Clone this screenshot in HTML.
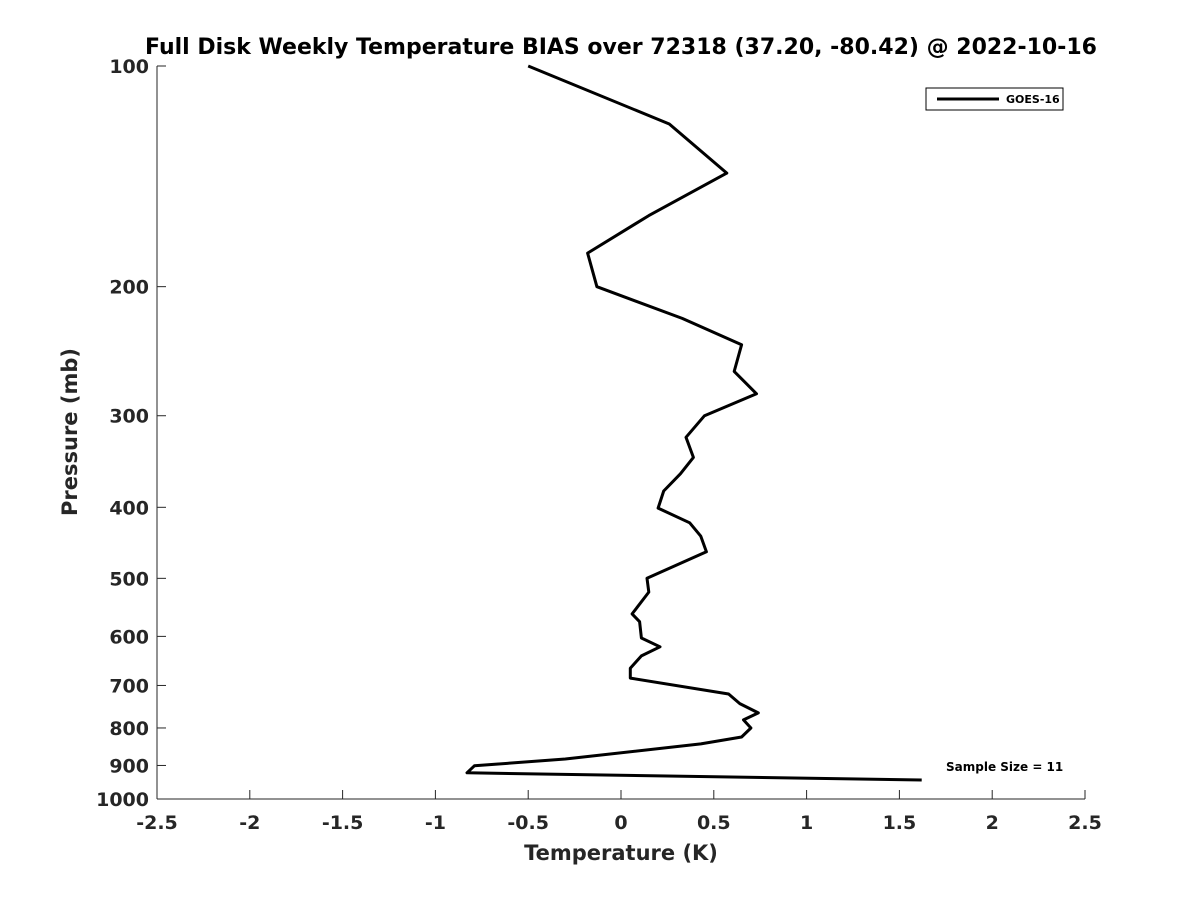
<!DOCTYPE html>
<html><head><meta charset="utf-8"><style>
body{margin:0;background:#fff}
svg{display:block;font-family:"DejaVu Sans","Liberation Sans",sans-serif;font-weight:bold}
</style></head><body>
<svg id="chart" width="1200" height="900">
<rect width="1200" height="900" fill="#fff"/>
<text x="621" y="54" text-anchor="middle" font-size="22" fill="#000">Full Disk Weekly Temperature BIAS over 72318 (37.20, -80.42) @ 2022-10-16</text>
<g id="axes"></g>
<path id="series" fill="none" stroke="#000" stroke-width="3" stroke-linejoin="round"/>
<g>
<rect x="926" y="88" width="137" height="22" fill="#fff" stroke="#000" stroke-width="1"/>
<line x1="937" y1="99" x2="999" y2="99" stroke="#000" stroke-width="3"/>
<text x="1006" y="103" font-size="11" fill="#000">GOES-16</text>
</g>
<text x="946" y="771" font-size="12" fill="#000">Sample Size = 11</text>
<text x="621" y="860" text-anchor="middle" font-size="21" fill="#262626">Temperature (K)</text>
<text transform="translate(77,432) rotate(-90)" text-anchor="middle" font-size="21" fill="#262626">Pressure (mb)</text>
</svg>
<script>
const xTicks=[-2.5,-2,-1.5,-1,-0.5,0,0.5,1,1.5,2,2.5];
const yTicks=[100,200,300,400,500,600,700,800,900,1000];
const temps=[-0.50,0.26,0.57,0.15,-0.18,-0.13,0.33,0.65,0.61,0.73,0.45,0.35,0.39,0.32,0.23,0.20,0.37,0.43,0.46,0.14,0.15,0.06,0.10,0.11,0.21,0.11,0.05,0.05,0.58,0.64,0.74,0.66,0.70,0.65,0.43,-0.30,-0.79,-0.83,1.62];
const pressures=[100,120,140,160,180,200,221,240,261,280,300,321,342,360,380,401,420,438,460,500,522,559,573,603,620,638,663,684,719,741,763,780,800,823,841,882,901,921,942];
const X0=157,X1=1085,Y0=66,Y1=799;
const xs=v=>X0+(v+2.5)/5*(X1-X0);
const ys=p=>Y0+(Math.log10(p)-2)*(Y1-Y0);
const NS="http://www.w3.org/2000/svg";
const ax=document.getElementById('axes');
function mk(t,a){const e=document.createElementNS(NS,t);for(const k in a)e.setAttribute(k,a[k]);ax.appendChild(e);return e;}
let e=mk('line',{x1:X0,y1:Y1,x2:X1,y2:Y1,stroke:'#262626','stroke-width':1});


e=mk('line',{x1:X0,y1:Y0,x2:X0,y2:Y1,stroke:'#262626','stroke-width':1});


xTicks.forEach(v=>{const x=xs(v);
mk('line',{x1:x,y1:Y1,x2:x,y2:Y1-9,stroke:'#262626'});
const t=mk('text',{x:x,y:Y1+30,'text-anchor':'middle','font-size':19,fill:'#262626'});t.textContent=String(v);

});
yTicks.forEach(p=>{const y=ys(p);
mk('line',{x1:X0,y1:y,x2:X0+9,y2:y,stroke:'#262626'});
const t=mk('text',{x:X0-8,y:y+7,'text-anchor':'end','font-size':19,fill:'#262626'});t.textContent=String(p);

});
document.getElementById('series').setAttribute('d',temps.map((v,i)=>(i?'L':'M')+xs(v).toFixed(1)+','+ys(pressures[i]).toFixed(1)).join(''));
</script>
</body></html>
